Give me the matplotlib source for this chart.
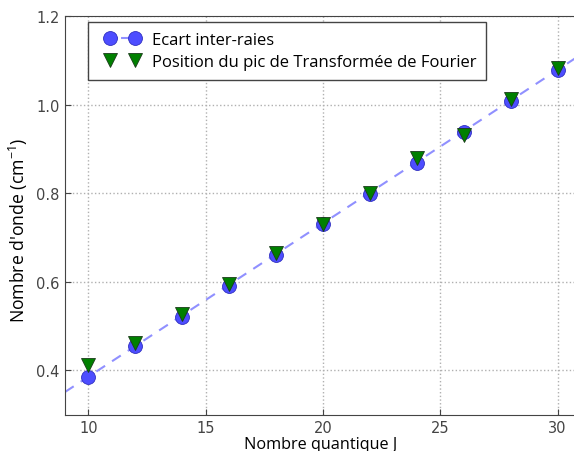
import matplotlib
matplotlib.use('Agg')
import matplotlib.pyplot as plt
from matplotlib.lines import Line2D
from matplotlib.legend_handler import HandlerLine2D

plt.rcParams['mathtext.default'] = 'regular'

# Données
J = [10, 12, 14, 16, 18, 20, 22, 24, 26, 28, 30]
ecart = [0.384, 0.454, 0.520, 0.591, 0.660, 0.731, 0.798, 0.869, 0.939, 1.009, 1.077]
pic_tf = [0.413, 0.461, 0.527, 0.594, 0.664, 0.730, 0.800, 0.879, 0.931, 1.013, 1.083]

# droite d'ajustement (extrémités lues)
fit_x = [9, 31]
fit_y = [0.351, 1.113]

fig = plt.figure(figsize=(5.74, 4.52), dpi=100)
ax = fig.add_axes([0.1132, 0.0805, 0.899, 0.882])

ax.plot(fit_x, fit_y, '--', color='#9090ff', linewidth=1.5, dashes=(5, 4))
ax.plot(J, ecart, 'o', color='#4d4dff', markeredgecolor='#3030c0', markersize=10, markeredgewidth=0.6)
ax.plot(J, pic_tf, 'v', color='green', markeredgecolor='#1a3a1a', markersize=10, markeredgewidth=0.6)

ax.set_xlim(9, 31)
ax.set_ylim(0.3, 1.2)
ax.set_xticks([10, 15, 20, 25, 30])
ax.set_yticks([0.4, 0.6, 0.8, 1.0, 1.2])
ax.grid(True, linestyle=':', color='#b0b0b0', linewidth=1)
ax.tick_params(direction='in', labelsize=10.5, labelcolor='#444444', color='#444444', length=4, pad=4)
for s in ax.spines.values():
    s.set_color('#444444')

ax.set_xlabel('Nombre quantique J', family='Open Sans', size=11.7, va='baseline')
ax.set_ylabel("Nombre d'onde (cm$^{-1}$)", family='Open Sans', size=12.7)
ax.xaxis.set_label_coords(0.495, -0.083)
ax.yaxis.set_label_coords(-0.067, 0.464)

h1 = Line2D([], [], marker='o', linestyle='--', color='#9090ff', markerfacecolor='#4d4dff',
            markeredgecolor='#3030c0', markersize=10, markeredgewidth=0.6)
h2 = Line2D([], [], marker='v', linestyle='none', color='green',
            markeredgecolor='#1a3a1a', markersize=10, markeredgewidth=0.6)
hm = {h1: HandlerLine2D(marker_pad=0.7, numpoints=2),
      h2: HandlerLine2D(marker_pad=0.7, numpoints=2)}
leg = ax.legend([h1, h2], ['Ecart inter-raies', 'Position du pic de Transformée de Fourier'],
                loc='upper left', fancybox=False, edgecolor='#444444', handler_map=hm,
                prop={'family': 'Open Sans', 'size': 12}, handlelength=2.9,
                bbox_to_anchor=(0.045, 0.985), borderaxespad=0, labelspacing=0.35,
                handletextpad=0.32, borderpad=0.6, framealpha=1)
leg.get_frame().set_linewidth(1)

fig.savefig('out.png', dpi=100)
